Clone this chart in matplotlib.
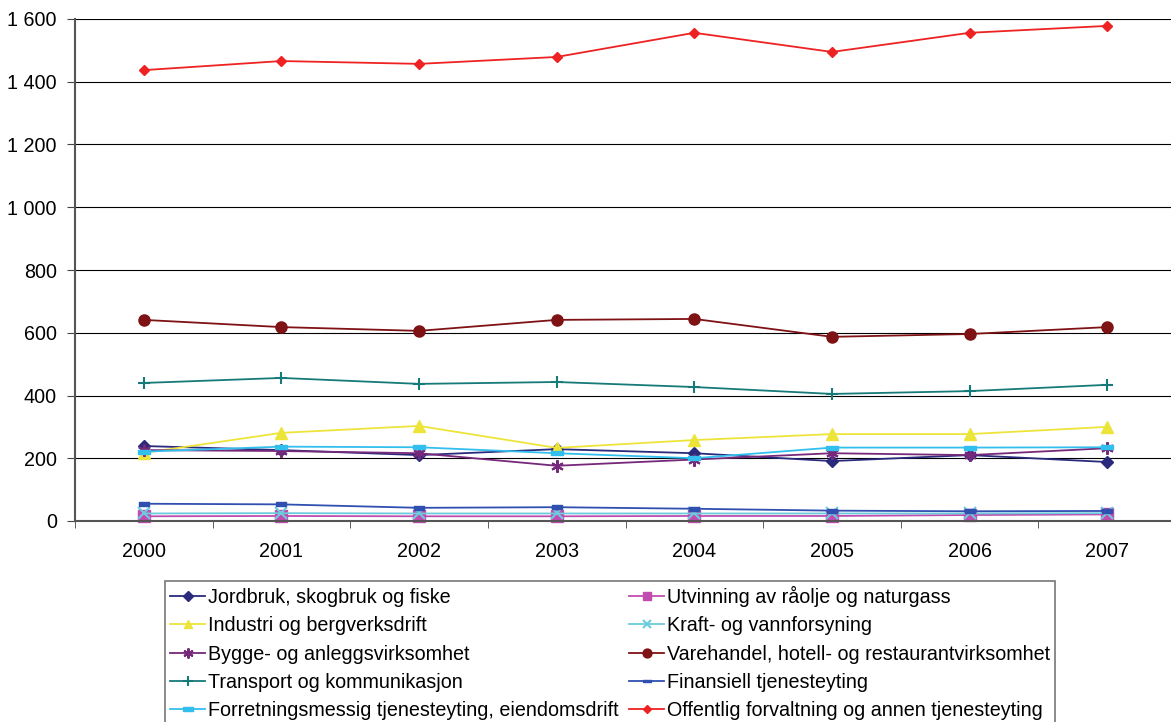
import matplotlib
matplotlib.use("Agg")
import matplotlib.pyplot as plt
from matplotlib.ticker import FuncFormatter

years = ["2000", "2001", "2002", "2003", "2004", "2005", "2006", "2007"]

jordbruk = [239, 226, 210, 229, 216, 191, 210, 188]
utvinning = [15, 16, 15, 15, 16, 16, 19, 21]
industri = [217, 281, 303, 233, 258, 277, 277, 300]
kraft = [24, 25, 24, 24, 24, 24, 24, 25]
bygge = [226, 223, 216, 176, 196, 216, 210, 232]
varehandel = [641, 618, 606, 641, 644, 587, 596, 618]
transport = [440, 456, 437, 443, 427, 405, 414, 434]
finansiell = [55, 53, 42, 44, 39, 33, 31, 32]
forretning = [221, 237, 235, 216, 200, 234, 234, 235]
offentlig = [1437, 1466, 1457, 1479, 1556, 1495, 1556, 1578]

labels = [
    "Jordbruk, skogbruk og fiske",
    "Utvinning av råolje og naturgass",
    "Industri og bergverksdrift",
    "Kraft- og vannforsyning",
    "Bygge- og anleggsvirksomhet",
    "Varehandel, hotell- og restaurantvirksomhet",
    "Transport og kommunikasjon",
    "Finansiell tjenesteyting",
    "Forretningsmessig tjenesteyting, eiendomsdrift",
    "Offentlig forvaltning og annen tjenesteyting",
]

dash = [(-1, -0.35), (1, -0.35), (1, 0.35), (-1, 0.35), (-1, -0.35)]
series = [
    (jordbruk, "#2A2A7C", "D", 6),
    (utvinning, "#C04CB0", "s", 8),
    (industri, "#EDE43A", "^", 8),
    (kraft, "#6CCBDC", "x", 8),
    (bygge, "#76287A", (6, 2, 0), 9),
    (varehandel, "#7E1214", "o", 8),
    (transport, "#157A78", "+", 9),
    (finansiell, "#3050B0", dash, 7),
    (forretning, "#33BFEE", dash, 9),
    (offentlig, "#EE2222", "D", 5),
]

plt.rcParams["font.family"] = ["Liberation Sans", "DejaVu Sans"]
FS = 14.2

fig = plt.figure(figsize=(11.71, 7.22), dpi=100)
ax = fig.add_axes([75 / 1171, (722 - 521) / 722, (1176 - 75) / 1171, (521 - 19) / 722])

x = list(range(len(years)))
handles = []
for (vals, col, mk, ms), lab in zip(series, labels):
    mew = 1.5 if mk in ("x", "+", (6, 2, 0)) else 1
    h, = ax.plot(x, vals, color=col, marker=mk, markersize=ms, linewidth=1.3,
                 markeredgewidth=mew, markerfacecolor=col, markeredgecolor=col,
                 label=lab, clip_on=False)
    handles.append(h)

ax.set_xlim(-0.5, 7.5)
ax.set_ylim(0, 1600)
ax.set_yticks(range(0, 1601, 200))
ax.yaxis.set_major_formatter(FuncFormatter(lambda v, p: f"{int(v):,}".replace(",", " ")))
ax.set_xticks(x)
ax.set_xticklabels(years)
ax.set_xticks([i + 0.5 for i in range(-1, 8)], minor=True)
ax.tick_params(axis="x", which="major", length=0, pad=15, labelsize=FS)
ax.tick_params(axis="x", which="minor", length=5, direction="out", color="#444444")
ax.tick_params(axis="y", length=6, direction="out", color="#444444", labelsize=FS, pad=7)
ax.grid(axis="y", color="black", linewidth=0.8)
ax.set_axisbelow(True)
for s in ("top", "right"):
    ax.spines[s].set_visible(False)
ax.spines["left"].set_color("#555555")
ax.spines["left"].set_linewidth(1.5)
ax.spines["bottom"].set_color("#555555")
ax.spines["bottom"].set_linewidth(1.5)

order = [0, 2, 4, 6, 8, 1, 3, 5, 7, 9]
leg = fig.legend([handles[i] for i in order], [labels[i] for i in order],
                 ncol=2, loc="upper left", bbox_to_anchor=(165 / 1171, 1 - 581 / 722),
                 fontsize=FS, frameon=True, fancybox=False, edgecolor="#555555",
                 handlelength=1.8, handletextpad=0.15, columnspacing=0.5,
                 labelspacing=0.47, borderpad=0.25, borderaxespad=0, markerscale=0.8)
leg.get_frame().set_linewidth(1.2)

fig.savefig("out.png", dpi=100)
